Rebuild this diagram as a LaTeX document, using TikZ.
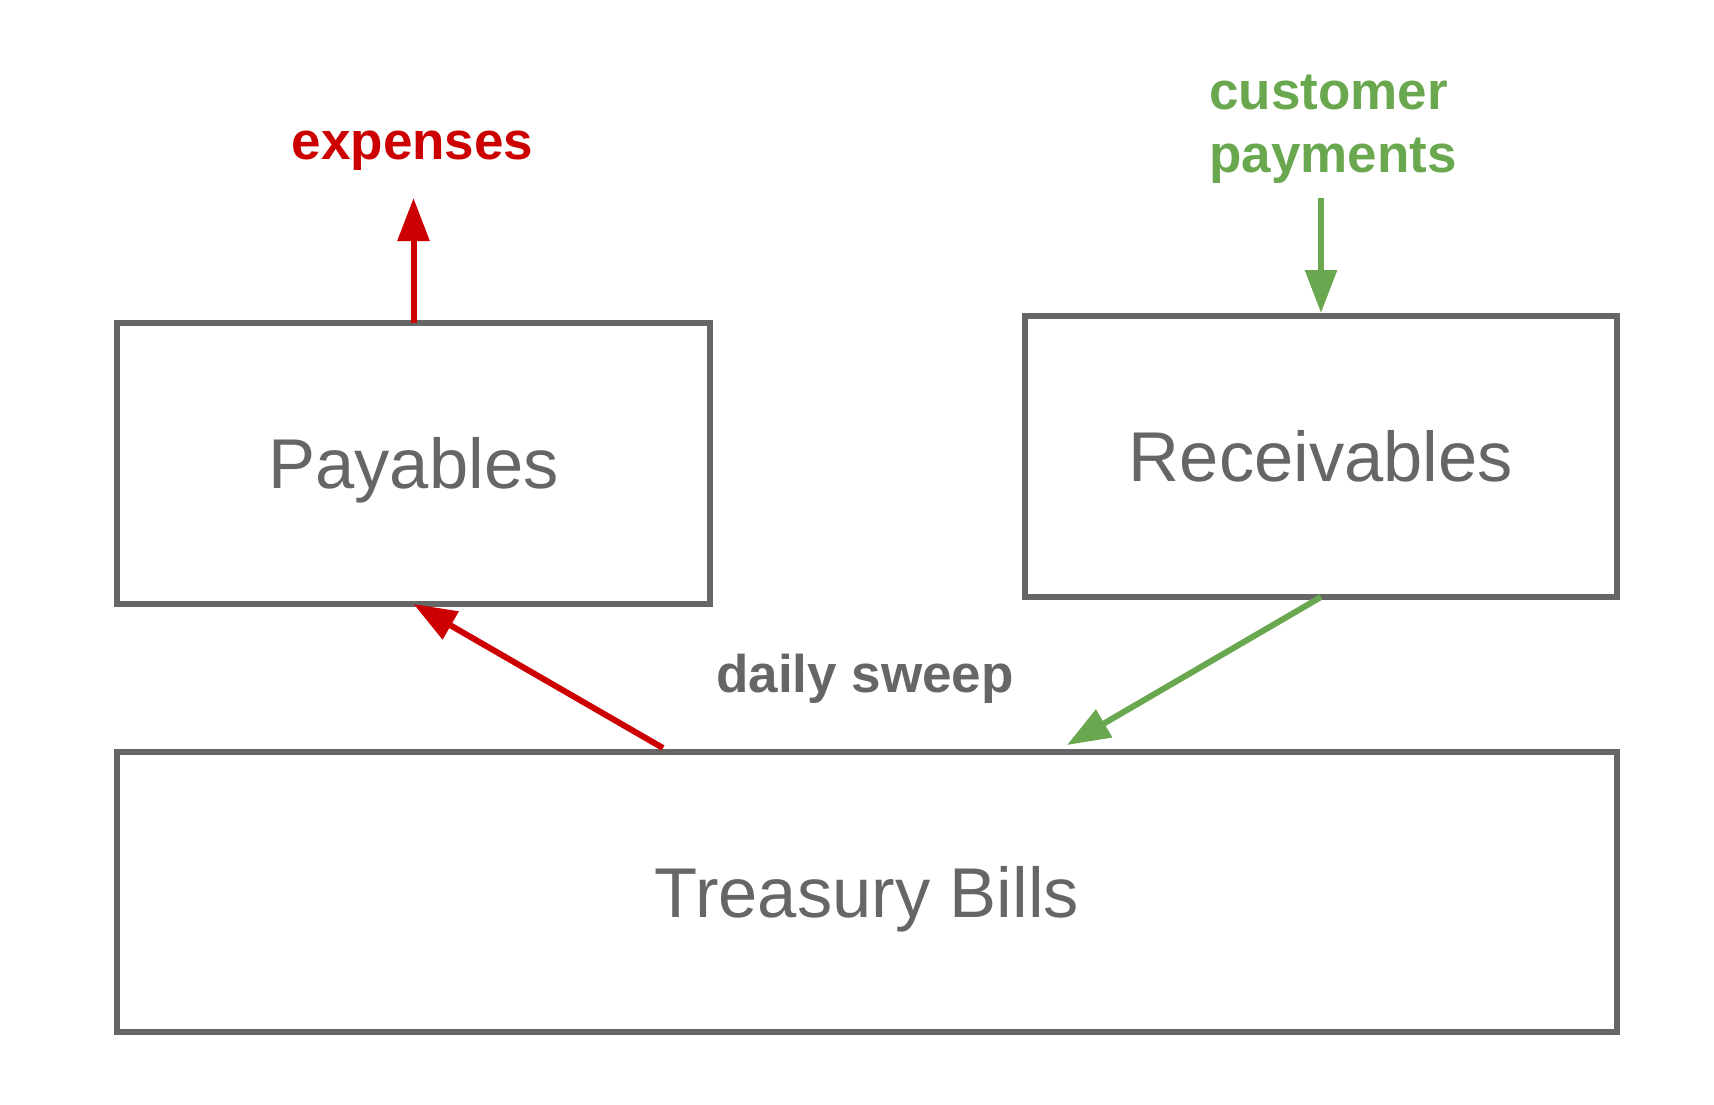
\documentclass[tikz,border=0pt]{standalone}
\usepackage{fontspec}
\setmainfont{Liberation Sans}
\usetikzlibrary{arrows.meta}
\definecolor{boxgray}{HTML}{666666}
\definecolor{flowred}{HTML}{CC0000}
\definecolor{flowgreen}{HTML}{6AA84F}
\tikzset{
  acct/.style={draw=boxgray, line width=6pt, outer sep=0pt, inner sep=0pt,
    text=boxgray, font=\fontsize{70.5}{84}\selectfont, text height=50pt, text depth=0pt},
  flowlabel/.style={inner sep=0pt, font=\fontsize{53}{63}\selectfont\bfseries},
  flow/.style={line width=6pt, -{Triangle[length=43pt,width=31pt]}},
}
\begin{document}
\begin{tikzpicture}[x=1pt,y=-1pt]
\useasboundingbox (0,0) rectangle (1714,1104);
\node[acct, minimum width=593pt, minimum height=281pt] (pay) at (413.5,463.5) {Payables};
\node[acct, minimum width=592pt, minimum height=281pt] (rec) at (1321,456.5) {Receivables};
\node[acct, minimum width=1500pt, minimum height=280pt] (tb) at (867,892) {Treasury Bills};
\node[flowlabel, text=flowred, anchor=base] (exp) at (412.5,159) {expenses};
\node[flowlabel, text=flowgreen, anchor=base west] (cust) at (1209,109)
  {\begin{tabular}[t]{@{}l@{}}customer\\payments\end{tabular}};
\node[flowlabel, text=boxgray, anchor=base] (sweep) at (865,692) {daily sweep};
\coordinate (exptip) at (413.5,198);
\coordinate (custstart) at (1321,198);
\draw[flow, flowred] (pay.north) -- (exptip);
\draw[flow, flowgreen, shorten >=3pt] (custstart) -- (rec.north);
\draw[flow, flowred] ([xshift=-204pt,yshift=4pt]tb.north) -- (pay.south);
\draw[flow, flowgreen] (rec.south) -- ([xshift=200pt,yshift=7pt]tb.north);
\end{tikzpicture}
\end{document}
